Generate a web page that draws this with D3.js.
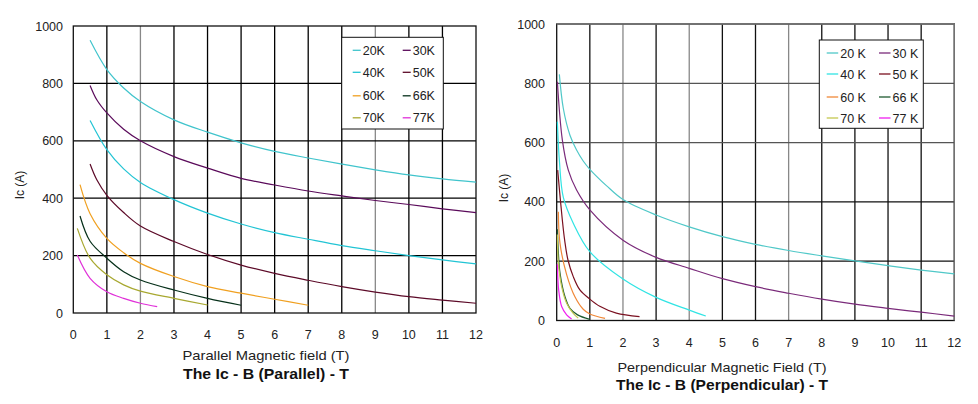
<!DOCTYPE html>
<html><head><meta charset="utf-8">
<script src="https://cdn.jsdelivr.net/npm/d3@7"></script>
<style>body{margin:0;background:#fff}svg{display:block}text{font-family:"Liberation Sans",Arial,sans-serif}</style>
</head><body><svg id="c" width="978" height="404"></svg>
<script>
// ---- data ----
const seriesNames = ["20K","30K","40K","50K","60K","66K","70K","77K"];
const xTicks = [0,1,2,3,4,5,6,7,8,9,10,11,12];
const yTicks = [0,200,400,600,800,1000];

// Parallel field: [B (T), Ic (A)]
const par20 = [[0.5,950],[1,848],[1.5,784],[2,737],[3,673],[4,630],[5,593],[6,563],[7,540],[8,519],[9,499],[10,481],[11,467],[12,456]];
const par30 = [[0.5,793],[0.7,743],[1,697],[1.5,640],[2,600],[3,545],[4,505],[5,469],[6,446],[7,425],[8,408],[9,392],[10,378],[11,363],[12,350]];
const par40 = [[0.5,671],[1,569],[1.5,502],[2,455],[3,395],[4,348],[5,310],[6,280],[7,257],[8,235],[9,217],[10,200],[11,185],[12,171]];
const par50 = [[0.5,519],[0.7,464],[1,410],[1.5,350],[2,303],[3,249],[4,204],[5,167],[6,138],[7,114],[8,92],[9,73],[10,57],[11,45],[12,34]];
const par60 = [[0.2,447],[0.5,346],[1,260],[1.5,210],[2,173],[3,127],[4,92],[5,69],[6,48],[7,27]];
const par66 = [[0.2,338],[0.5,250],[1,191],[1.5,144],[2,115],[3,80],[4,51],[5,27]];
const par70 = [[0.12,295],[0.5,191],[1,133],[1.5,98],[2,76],[3,51],[4,28]];
const par77 = [[0.12,202],[0.5,121],[1,74],[1.5,51],[2,34],[2.5,22]];

// Perpendicular field: [B (T), Ic (A)]
const per20 = [[0.08,830],[0.2,715],[0.4,625],[0.6,575],[0.8,538],[1,510],[1.5,455],[2,408],[3,356],[4,316],[5,283],[6,257],[7,236],[8,218],[9,201],[10,185],[11,170],[12,157]];
const per30 = [[0.02,805],[0.17,609],[0.35,507],[0.6,440],[1,373],[2,271],[3,213],[4,176],[5,141],[6,114],[7,92],[8,72],[9,55],[10,41],[11,28],[12,15]];
const per40 = [[0.02,670],[0.08,541],[0.2,415],[0.5,328],[1,232],[2,140],[3,78],[4,35],[4.5,15]];
const per50 = [[0.03,507],[0.1,420],[0.17,339],[0.24,271],[0.34,204],[0.5,148],[0.7,103],[1,72],[1.3,48],[1.8,25],[2.5,13]];
const per60 = [[0.05,367],[0.1,260],[0.3,155],[0.55,80],[0.8,38],[1,22],[1.46,7]];
const per66 = [[0.02,308],[0.05,230],[0.1,160],[0.25,80],[0.4,41],[0.63,19],[1,4]];
const per70 = [[0.02,290],[0.05,195],[0.15,114],[0.3,58],[0.5,24],[0.65,8]];
const per77 = [[0.02,190],[0.06,103],[0.15,47],[0.3,19],[0.45,5]];

const parColors = ["#40c4cc","#5a0a5a","#22c4d4","#5c0a28","#f0a020","#06301a","#a8a830","#e030d8"];
const perColors = ["#50c8c8","#7a2a7a","#30e4e4","#7a1020","#f08838","#1e5a30","#c4c850","#f020f0"];

const svg = d3.select("#c");

function drawChart(cfg) {
  const g = svg.append("g");
  const x = d3.scaleLinear().domain([0,12]).range([cfg.x0, cfg.x1]);
  const y = d3.scaleLinear().domain([0,1000]).range([cfg.y0, cfg.y1]);
  // grid
  xTicks.forEach((t,i) => {
    if (t === 0 || t === 12) return;
    g.append("line").attr("x1", x(t)).attr("x2", x(t)).attr("y1", y(0)).attr("y2", y(1000))
      .attr("stroke", cfg.vGridColor[i]).attr("stroke-width", 1.3);
  });
  yTicks.forEach((t,i) => {
    if (t === 0 || t === 1000) return;
    g.append("line").attr("x1", x(0)).attr("x2", x(12)).attr("y1", y(t)).attr("y2", y(t))
      .attr("stroke", cfg.hGridColor[i]).attr("stroke-width", 1.3);
  });
  g.append("rect").attr("x", x(0)).attr("y", y(1000)).attr("width", x(12)-x(0)).attr("height", y(0)-y(1000))
    .attr("fill","none").attr("stroke", "#111").attr("stroke-width", 1.3);
  if (cfg.rightGray) g.append("line").attr("x1", x(12)).attr("x2", x(12)).attr("y1", y(0)).attr("y2", y(1000)).attr("stroke","#777").attr("stroke-width",1.3);
  if (cfg.topGray) g.append("line").attr("x1", x(0)).attr("x2", x(12)).attr("y1", y(1000)).attr("y2", y(1000)).attr("stroke","#777").attr("stroke-width",1.3);

  // tick labels
  g.selectAll(".xt").data(xTicks).enter().append("text")
    .attr("x", d => x(d)).attr("y", cfg.xTickY).attr("text-anchor","middle")
    .attr("font-size", 12.5).attr("fill","#222").text(d => d);
  g.selectAll(".yt").data(yTicks).enter().append("text")
    .attr("x", cfg.yTickX).attr("y", d => y(d) + 4.5).attr("text-anchor","end")
    .attr("font-size", 12.5).attr("fill","#222").text(d => d);

  // y label
  g.append("text").attr("transform", `translate(${cfg.yLabX},${cfg.yLabY}) rotate(-90)`)
    .attr("text-anchor","middle").attr("font-size", 12).attr("fill","#222").text("Ic (A)");
  // x label
  g.append("text").attr("x", cfg.xLabCx).attr("y", cfg.xLabY).attr("text-anchor","middle")
    .attr("font-size", 13).attr("fill","#222").attr("textLength", cfg.xLabW).attr("lengthAdjust","spacingAndGlyphs")
    .text(cfg.xLabel);
  // title
  g.append("text").attr("x", cfg.xLabCx).attr("y", cfg.titleY).attr("text-anchor","middle")
    .attr("font-size", 15.5).attr("font-weight","bold").attr("fill","#111")
    .attr("textLength", cfg.titleW).attr("lengthAdjust","spacingAndGlyphs").text(cfg.title);

  // curves
  const line = d3.line().x(d => x(d[0])).y(d => y(d[1])).curve(d3.curveCatmullRom.alpha(0.5));
  cfg.series.forEach((s,i) => {
    g.append("path").attr("d", line(s)).attr("fill","none")
      .attr("stroke", cfg.colors[i]).attr("stroke-width", 1.2);
  });

  // legend
  const L = cfg.legend;
  g.append("rect").attr("x", L.x).attr("y", L.y).attr("width", L.w).attr("height", L.h)
    .attr("fill","#fff").attr("stroke","#111").attr("stroke-width",1);
  seriesNames.forEach((n,i) => {
    const col = i % 2, row = Math.floor(i/2);
    const lx = L.x + L.colX[col], ly = L.y + L.rowY[row];
    g.append("line").attr("x1", lx).attr("x2", lx + L.lineW).attr("y1", ly).attr("y2", ly)
      .attr("stroke", cfg.colors[i]).attr("stroke-width", 1.3);
    g.append("text").attr("x", lx + L.lineW + 2).attr("y", ly + 4.5).attr("font-size", 12.5)
      .attr("fill","#222").text(cfg.legendFmt(n));
  });
}

drawChart({
  x0: 73.3, x1: 476, y0: 313, y1: 26,
  series: [par20,par30,par40,par50,par60,par66,par70,par77],
  colors: parColors,
  vGridColor: ["#000","#000","#888","#000","#000","#000","#000","#000","#000","#888","#000","#000","#000"],
  hGridColor: ["#000","#000","#000","#000","#000","#000"],
  xTickY: 339, yTickX: 63,
  yLabX: 24, yLabY: 185,
  xLabel: "Parallel Magnetic field (T)", xLabCx: 266, xLabY: 360, xLabW: 167,
  title: "The Ic - B (Parallel) - T", titleY: 379, titleW: 166,
  legend: {x: 341.7, y: 37.3, w: 101.6, h: 91.7, colX: [11, 61], rowY: [13, 35, 58.5, 80.5], lineW: 8},
  legendFmt: n => n
});

drawChart({
  x0: 556.7, x1: 954.3, y0: 320.5, y1: 24,
  series: [per20,per30,per40,per50,per60,per66,per70,per77],
  colors: perColors,
  vGridColor: ["#000","#111","#888","#111","#888","#111","#111","#888","#111","#111","#111","#111","#888"],
  hGridColor: ["#000","#111","#111","#555","#555","#888"],
  rightGray: true, topGray: true,
  xTickY: 347, yTickX: 545,
  yLabX: 508, yLabY: 188,
  xLabel: "Perpendicular Magnetic Field (T)", xLabCx: 722, xLabY: 372, xLabW: 209,
  title: "The Ic - B (Perpendicular) - T", titleY: 390, titleW: 212,
  legend: {x: 819.3, y: 40, w: 104, h: 88.3, colX: [7.4, 59.7], rowY: [13, 34, 57, 78], lineW: 11.5},
  legendFmt: n => n.replace("K"," K")
});
</script>
</body></html>
